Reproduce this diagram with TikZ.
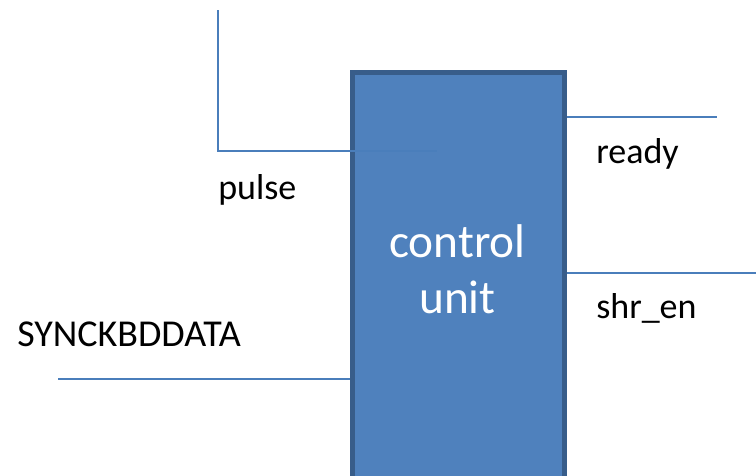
\documentclass[tikz,border=0pt]{standalone}
\usepackage{fontspec}
\setmainfont{Carlito}
\usepackage{tikz}
\usetikzlibrary{positioning,calc}
\definecolor{cufill}{HTML}{4F81BD}
\definecolor{cuborder}{HTML}{385D8A}
\definecolor{wireblue}{HTML}{4A7EBB}

\begin{document}
\begin{tikzpicture}[
      x=0.75pt, y=-0.75pt,
      every node/.style={font=\fontsize{27}{32}\selectfont},
      unitbox/.style={draw=cuborder, line width=3.75pt, fill=cufill, minimum width=159pt, minimum height=323pt, inner sep=0pt},
      sig/.style={inner sep=0pt, anchor=base west},
      wire/.style={draw=wireblue, line width=1.1pt},
    ]
    \useasboundingbox (0,0) rectangle (756,475);
    \node[unitbox, anchor=north] (cu) at (458.5,69.5) {};
    \node[align=center, text=white, font=\fontsize{35.5}{41.5}\selectfont, anchor=base] (cutext) at (457.5,313) {control\\unit};

    \node[sig] (pulse) at (218,199) {pulse};
    \node[sig] (ready) at (596,163) {ready};
    \node[sig] (shren) at (596,318) {shr\_en};
    \node[sig, font=\fontsize{28.5}{33}\selectfont] (sync) at (17,346) {SYNCKBDDATA};

    \coordinate (pulsetop) at (218,10);
    \coordinate (pulseend) at (437,151);
    \coordinate (readyend) at (717,117);
    \coordinate (shrenend) at (756,273);
    \coordinate (syncstart) at (58,379);

    \draw[wire] (pulsetop) |- (pulseend);
    \draw[wire] (cu.east |- readyend) -- (readyend);
    \draw[wire] (cu.east |- shrenend) -- (shrenend);
    \draw[wire] (syncstart) -- (cu.west |- syncstart);
  \end{tikzpicture}
\end{document}
